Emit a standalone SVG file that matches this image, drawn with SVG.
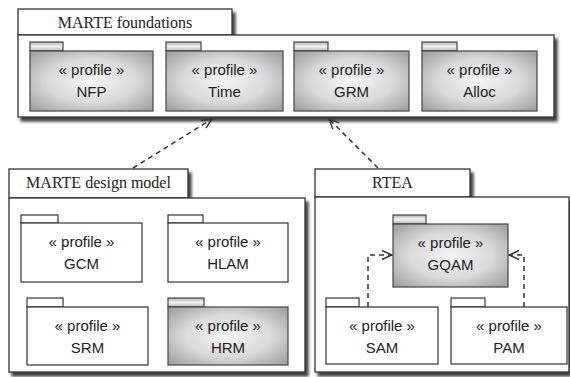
<svg xmlns="http://www.w3.org/2000/svg" width="570" height="377" viewBox="0 0 570 377">
  <defs>
    <filter id="shadow" x="-5%" y="-5%" width="115%" height="120%">
      <feGaussianBlur in="SourceAlpha" stdDeviation="1.6"/>
      <feOffset dx="3" dy="3.5" result="blur"/>
      <feComponentTransfer><feFuncA type="linear" slope="0.75"/></feComponentTransfer>
      <feMerge><feMergeNode/><feMergeNode in="SourceGraphic"/></feMerge>
    </filter>
    <radialGradient id="bodyFill" cx="50%" cy="50%" r="65%">
      <stop offset="0" stop-color="#f4f4f4"/>
      <stop offset="0.55" stop-color="#dadada"/>
      <stop offset="1" stop-color="#a4a4a4"/>
    </radialGradient>
    <linearGradient id="tabFill" x1="0" y1="0" x2="0" y2="1">
      <stop offset="0" stop-color="#b4b4b4"/>
      <stop offset="0.5" stop-color="#f2f2f2"/>
      <stop offset="1" stop-color="#b4b4b4"/>
    </linearGradient>
    <marker id="open" viewBox="0 0 12 12" refX="11" refY="6" markerWidth="12" markerHeight="12" markerUnits="userSpaceOnUse" orient="auto">
      <path d="M1,1.5 L11,6 L1,10.5" fill="none" stroke="#333" stroke-width="1.4"/>
    </marker>
  </defs>
  <style>
    .frame rect { fill: #fff; stroke: #333; stroke-width: 1.3; }
    .pkg rect { fill: #fff; stroke: #333; stroke-width: 1.2; }
    .pkg.shaded .body { fill: url(#bodyFill); stroke: #444; }
    .pkg.shaded .tab { fill: url(#tabFill); stroke: #444; }
    .title { font-family: "Liberation Serif", "Times New Roman", serif; font-size: 16px; fill: #222; text-anchor: middle; }
    .lbl { font-family: "Liberation Sans", Arial, sans-serif; font-size: 15px; fill: #222; text-anchor: middle; }
    .dep { fill: none; stroke: #333; stroke-width: 1.5; stroke-dasharray: 5 4; marker-end: url(#open); }
  </style>

  <rect width="570" height="377" fill="#fff"/>

  <!-- MARTE foundations -->
  <g id="marte-foundations">
    <g class="frame" filter="url(#shadow)">
      <rect x="18" y="9" width="214" height="26"/>
      <rect x="18" y="35" width="536" height="82"/>
    </g>
    <text class="title" x="125" y="28">MARTE foundations</text>
  </g>

  <g id="nfp" class="pkg shaded">
    <rect class="tab" x="30" y="42" width="33" height="9"/>
    <rect class="body" x="30" y="51" width="123" height="60"/>
    <text class="lbl" x="91.5" y="75">« profile »</text>
    <text class="lbl" x="91.5" y="97">NFP</text>
  </g>
  <g id="time" class="pkg shaded">
    <rect class="tab" x="166" y="42" width="35" height="9"/>
    <rect class="body" x="166" y="51" width="117" height="60"/>
    <text class="lbl" x="224.5" y="75">« profile »</text>
    <text class="lbl" x="224.5" y="97">Time</text>
  </g>
  <g id="grm" class="pkg shaded">
    <rect class="tab" x="294" y="42" width="34" height="9"/>
    <rect class="body" x="294" y="51" width="115" height="60"/>
    <text class="lbl" x="351.5" y="75">« profile »</text>
    <text class="lbl" x="351.5" y="97">GRM</text>
  </g>
  <g id="alloc" class="pkg shaded">
    <rect class="tab" x="422" y="42" width="35" height="9"/>
    <rect class="body" x="422" y="51" width="115" height="60"/>
    <text class="lbl" x="479.5" y="75">« profile »</text>
    <text class="lbl" x="479.5" y="97">Alloc</text>
  </g>

  <!-- MARTE design model -->
  <g id="marte-design-model">
    <g class="frame" filter="url(#shadow)">
      <rect x="9" y="169" width="179" height="29"/>
      <rect x="9" y="198" width="296" height="174"/>
    </g>
    <text class="title" x="98.5" y="188">MARTE design model</text>
  </g>

  <g id="gcm" class="pkg">
    <rect class="tab" x="21" y="215" width="37" height="8"/>
    <rect class="body" x="21" y="223" width="121" height="59"/>
    <text class="lbl" x="81.5" y="247">« profile »</text>
    <text class="lbl" x="81.5" y="269">GCM</text>
  </g>
  <g id="hlam" class="pkg">
    <rect class="tab" x="168" y="215" width="35" height="8"/>
    <rect class="body" x="168" y="223" width="120" height="59"/>
    <text class="lbl" x="228" y="247">« profile »</text>
    <text class="lbl" x="228" y="269">HLAM</text>
  </g>
  <g id="srm" class="pkg">
    <rect class="tab" x="27" y="298" width="36" height="9"/>
    <rect class="body" x="27" y="307" width="121" height="58"/>
    <text class="lbl" x="87.5" y="331">« profile »</text>
    <text class="lbl" x="87.5" y="353">SRM</text>
  </g>
  <g id="hrm" class="pkg shaded">
    <rect class="tab" x="168" y="298" width="36" height="9"/>
    <rect class="body" x="168" y="307" width="120" height="58"/>
    <text class="lbl" x="228" y="331">« profile »</text>
    <text class="lbl" x="228" y="353">HRM</text>
  </g>

  <!-- RTEA -->
  <g id="rtea">
    <g class="frame" filter="url(#shadow)">
      <rect x="315" y="169" width="155" height="28"/>
      <rect x="315" y="197" width="254" height="175"/>
    </g>
    <text class="title" x="392.5" y="188">RTEA</text>
  </g>

  <g id="gqam" class="pkg shaded">
    <rect class="tab" x="393" y="215" width="33" height="9"/>
    <rect class="body" x="393" y="224" width="115" height="63"/>
    <text class="lbl" x="450.5" y="248">« profile »</text>
    <text class="lbl" x="450.5" y="270">GQAM</text>
  </g>
  <g id="sam" class="pkg">
    <rect class="tab" x="326" y="298" width="33" height="9"/>
    <rect class="body" x="326" y="307" width="112" height="57"/>
    <text class="lbl" x="382" y="331">« profile »</text>
    <text class="lbl" x="382" y="353">SAM</text>
  </g>
  <g id="pam" class="pkg">
    <rect class="tab" x="451" y="298" width="34" height="9"/>
    <rect class="body" x="451" y="307" width="116" height="57"/>
    <text class="lbl" x="509" y="331">« profile »</text>
    <text class="lbl" x="509" y="353">PAM</text>
  </g>

  <!-- dependencies -->
  <g id="connectors">
    <path class="dep" d="M133,168 L212,119"/>
    <path class="dep" d="M378,168 L329,119"/>
    <path class="dep" d="M368,307 V255 H392"/>
    <path class="dep" d="M524,307 V255 H509"/>
  </g>
</svg>
